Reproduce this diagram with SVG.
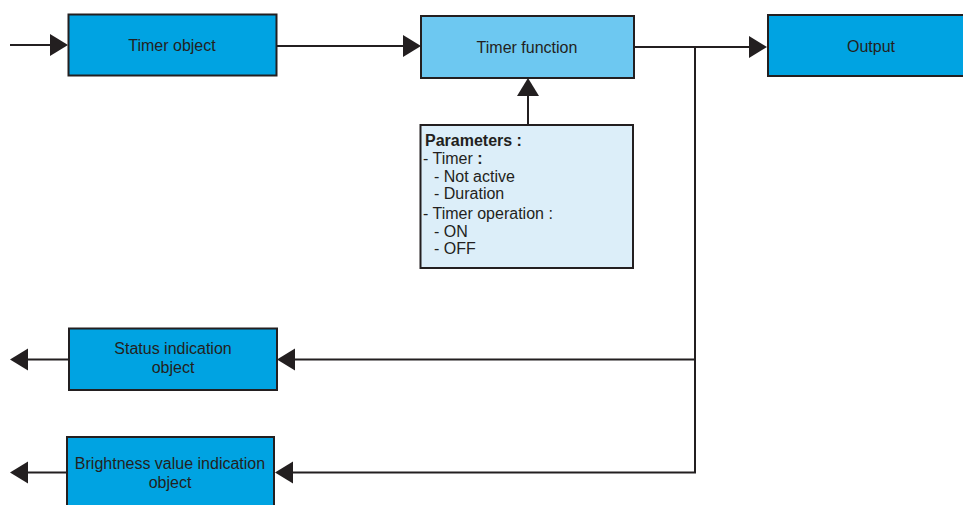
<svg xmlns="http://www.w3.org/2000/svg" width="963" height="505" viewBox="0 0 963 505">
<style>
.box{stroke:#231F20;stroke-width:2}
.blue{fill:#00A3E2}
.light{fill:#6DC8F1}
.pale{fill:#DCEEF9}
text{font-family:"Liberation Sans",Arial,sans-serif;font-size:16px;fill:#231F20}
.c{text-anchor:middle}
.b{font-weight:bold}
.ln{stroke:#231F20;stroke-width:2;fill:none}
.ah{fill:#231F20;stroke:none}
</style>
<rect width="963" height="505" fill="#fff"/>
<g id="timer-object">
<rect class="box blue" x="68.5" y="14.5" width="208" height="61"/>
<text class="c" x="172" y="51">Timer object</text>
</g>
<g id="timer-function">
<rect class="box light" x="421" y="16" width="213" height="62"/>
<text class="c" x="527" y="53">Timer function</text>
</g>
<g id="output">
<rect class="box blue" x="768" y="15" width="210" height="61"/>
<text class="c" x="871" y="51.5">Output</text>
</g>
<g id="parameters">
<rect class="box pale" x="420.5" y="125" width="212.5" height="143"/>
<text class="b" x="425" y="145.5">Parameters :</text>
<text x="423" y="164">- Timer <tspan class="b">:</tspan></text>
<text x="434" y="181.5">- Not active</text>
<text x="434" y="199">- Duration</text>
<text x="423" y="219">- Timer operation :</text>
<text x="434" y="236.5">- ON</text>
<text x="434" y="254">- OFF</text>
</g>
<g id="status-indication">
<rect class="box blue" x="69" y="328.5" width="208" height="61.5"/>
<text class="c" x="173" y="354">Status indication</text>
<text class="c" x="173" y="373">object</text>
</g>
<g id="brightness-indication">
<rect class="box blue" x="67" y="437" width="207" height="80"/>
<text class="c" x="170" y="469">Brightness value indication</text>
<text class="c" x="170" y="488">object</text>
</g>
<g id="connectors">
<line class="ln" x1="10" y1="45" x2="52" y2="45"/>
<polygon class="ah" points="50,34 68,45 50,56"/>
<line class="ln" x1="276" y1="46" x2="405" y2="46"/>
<polygon class="ah" points="403,35 421,46 403,57"/>
<line class="ln" x1="528" y1="125" x2="528" y2="94"/>
<polygon class="ah" points="517,96 528,78 539,96"/>
<line class="ln" x1="634" y1="47" x2="750" y2="47"/>
<polygon class="ah" points="749,36 767,47 749,58"/>
<polyline class="ln" points="695,47 695,472.5 290,472.5"/>
<line class="ln" x1="695" y1="359.5" x2="293" y2="359.5"/>
<polygon class="ah" points="295,348.5 277,359.5 295,370.5"/>
<polygon class="ah" points="293,461.5 275,472.5 293,483.5"/>
<line class="ln" x1="69" y1="359.5" x2="26" y2="359.5"/>
<polygon class="ah" points="28,348.5 10,359.5 28,370.5"/>
<line class="ln" x1="67" y1="472.5" x2="26" y2="472.5"/>
<polygon class="ah" points="28,461.5 10,472.5 28,483.5"/>
</g>
</svg>
